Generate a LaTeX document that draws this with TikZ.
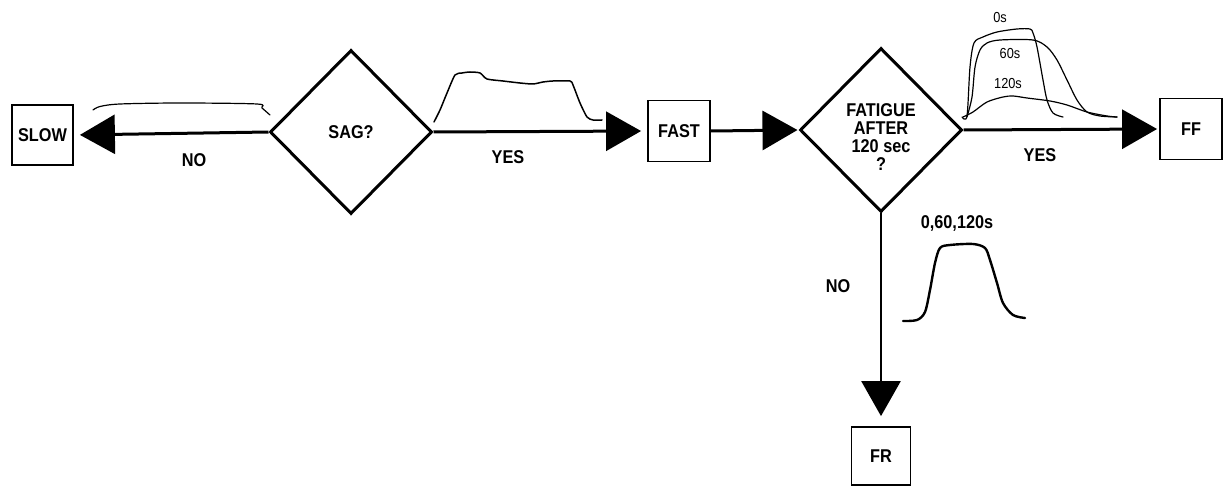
\documentclass[tikz,border=0pt]{standalone}
\usepackage{fontspec}
\setmainfont{Liberation Sans}[FakeStretch=0.88]
\usetikzlibrary{shapes.geometric,arrows.meta}
\begin{document}
\begin{tikzpicture}[x=1pt,y=-1pt,
  lbl/.style={font=\fontsize{18.5}{18}\selectfont\bfseries, inner sep=0pt},
  small/.style={font=\fontsize{14.5}{15}\selectfont, inner sep=0pt},
  box/.style={draw, line width=1.8pt, minimum width=61pt, minimum height=60pt, inner sep=0pt, lbl},
  dia/.style={draw, diamond, line width=3pt, minimum width=162pt, minimum height=164pt, inner sep=0pt, lbl, align=center},
  arr/.style={line width=3pt, -{Triangle[length=35pt,width=39pt]}},
  trace/.style={line width=1.2pt, line join=round, line cap=round},
]
\useasboundingbox (0,0) rectangle (1226,486);

% nodes
\node[box] (slow) at (42.5,135) {SLOW};
\node[dia] (sag) at (351,132) {SAG?};
\node[box, minimum width=62pt, minimum height=61pt] (fast) at (679,131) {FAST};
\node[dia] (fat) at (881,130) {};
\node[lbl, align=center] (fattext) at ([yshift=-7pt]fat.center) {FATIGUE\\AFTER\\120 sec\\?};
\node[box, minimum width=62pt, minimum height=61pt] (ff) at (1191,129) {FF};
\node[box, minimum width=59pt, minimum height=58pt] (fr) at (881,456) {FR};

% connectors
\draw[arr, shorten >=6pt] (sag.west) -- (slow.east);
\draw[arr, shorten >=6pt] (sag.east) -- (fast.west);
\draw[arr, shorten >=1pt] (fast.east) -- (fat.west);
\draw[arr, shorten >=2pt] (fat.east) -- (ff.west);
\draw[arr, line width=2.5pt, shorten >=10pt] (fat.south) -- (fr.north);

% labels
\node[lbl] (no1) at (194,160) {NO};
\node[lbl] (yes1) at (508,157) {YES};
\node[lbl] (yes2) at (1040,155) {YES};
\node[lbl] (no2) at (838,286) {NO};
\node[lbl] (all) at (957,223) {0,60,120s};
\node[small] (l0) at (1000,18) {0s};
\node[small] (l60) at (1010,54) {60s};
\node[small] (l120) at (1008,84) {120s};

% slow trace (no sag)
\draw[trace] plot[smooth, tension=0.5] coordinates {(93,110) (100,106.5) (120,104) (180,103) (257,104) (262,108) (270,115)};

% sag trace
\draw[trace, line width=1.5pt] plot[smooth, tension=0.4] coordinates {(434,122) (440,110) (447,93) (455,75) (462,73) (470,72) (480,73) (487,79) (503,81) (520,83) (533,84) (543,82) (553,81) (570,81) (573,85) (580,103) (587,117) (593,120) (602,120)};

% fatigue traces
\draw[trace] plot[smooth, tension=0.5] coordinates {(962,117) (967,116) (970,67) (974,43) (983,37) (997,32) (1017,29) (1030,29) (1033,33) (1037,47) (1043,80) (1047,100) (1053,113) (1063,117)};
\draw[trace] plot[smooth, tension=0.5] coordinates {(967,117) (972,97) (975,67) (980,50) (987,43) (1000,40) (1033,40) (1047,47) (1057,60) (1067,80) (1077,100) (1087,112) (1100,116) (1117,117)};
\draw[trace] plot[smooth, tension=0.5] coordinates {(963,117) (973,112) (987,102) (1003,97) (1013,96) (1027,98) (1050,101) (1067,105) (1087,112) (1107,116) (1117,117)};

% non-fatiguing trace
\draw[trace, line width=2.4pt] plot[smooth, tension=0.5] coordinates {(903,321) (917,320) (925,312) (930,290) (935,263) (940,248) (950,245) (973,244) (985,248) (990,260) (997,283) (1003,303) (1013,315) (1025,318)};
\end{tikzpicture}
\end{document}
